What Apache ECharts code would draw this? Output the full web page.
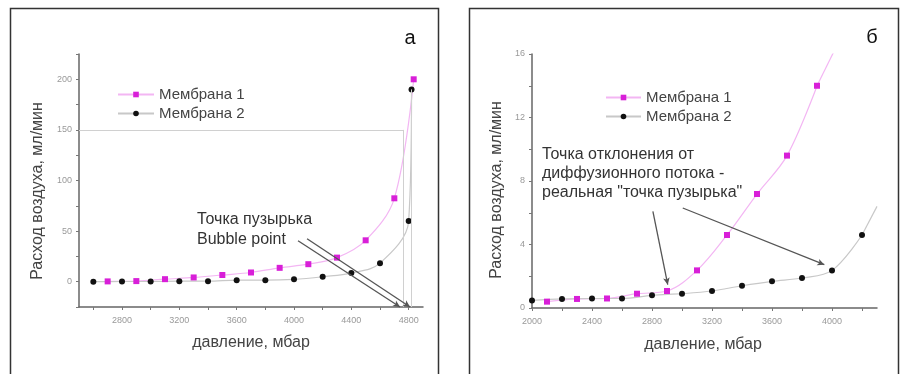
<!DOCTYPE html>
<html><head><meta charset="utf-8">
<script src="https://cdn.jsdelivr.net/npm/echarts@6/dist/echarts.min.js"></script>
<style>html,body{margin:0;padding:0;background:#fff}#c{width:903px;height:374px}</style>
</head><body><div id="c"></div>
<script>
// ---- Panel "а" data (pressure mbar, air flow ml/min)
const aM1 = [[2700,0.3],[2900,0.6],[3100,2.5],[3300,4.2],[3500,6.6],[3700,9.1],[3900,13.7],[4100,17.3],[4300,23.8],[4500,40.9],[4700,82.4],[4835,200]];
const aM2 = [[2600,0],[2800,0.2],[3000,0.2],[3200,0.5],[3400,0.5],[3600,1.5],[3800,1.5],[4000,2.3],[4200,4.9],[4400,8.5],[4600,18.3],[4800,60],[4820,190]];
const aXLabels = [2800,3200,3600,4000,4400,4800];
const aXTicks = [2600,2800,3000,3200,3400,3600,3800,4000,4200,4400,4600,4800];
const aYLabels = [0,50,100,150,200];
const aYTicks = [-25,0,25,50,75,100,125,150,175,200,225];
const aGuideH = [[2500,150],[4763,150]];
const aGuideV1 = [[4763,150],[4763,-25]];
const aGuideV2 = [[4820,190],[4820,-25]];
const aArrow1 = [[4028,40.5],[4740,-25]];
const aArrow2 = [[4091,42.5],[4810,-25]];

// ---- Panel "б" data
const bM1 = [[2100,0.4],[2300,0.57],[2500,0.6],[2700,0.9],[2900,1.07],[3100,2.37],[3300,4.6],[3500,7.18],[3700,9.6],[3900,14.0]];
const bM2 = [[2000,0.48],[2200,0.57],[2400,0.6],[2600,0.6],[2800,0.8],[3000,0.9],[3200,1.07],[3400,1.4],[3600,1.68],[3800,1.89],[4000,2.37],[4200,4.6]];
const bM1Tail = [[3900,14.0],[4015,16.2]];
const bM2Tail = [[4200,4.6],[4300,6.4]];
const bXLabels = [2000,2400,2800,3200,3600,4000];
const bXTicks = [2000,2200,2400,2600,2800,3000,3200,3400,3600,3800,4000,4200];
const bYLabels = [0,4,8,12,16];
const bYTicks = [0,2,4,6,8,10,12,14,16];
const bArrow1 = [[2806,6.08],[2905,1.47]];
const bArrow2 = [[3005,6.3],[3949,2.73]];

const NAME1 = 'Мембрана 1', NAME2 = 'Мембрана 2';
const MAG = '#d81fd8', PINK = '#f3b6f3', BLK = '#111', GRY = '#c8c8c8';
const FONT = '"Liberation Sans", Arial, sans-serif';
const plain = v => String(v);

function xAx(idx, min, max, labels, ticks) {
  return {type:'value', gridIndex:idx, min:min, max:max,
    axisLine:{show:true, onZero:false, lineStyle:{color:'#666', width:1.5}},
    axisTick:{show:true, length:3, customValues:ticks, lineStyle:{color:'#777'}},
    axisLabel:{show:true, customValues:labels, formatter:plain, color:'#999', fontSize:9, margin:9, fontFamily:FONT},
    splitLine:{show:false}};
}
function yAx(idx, min, max, labels, ticks) {
  return {type:'value', gridIndex:idx, min:min, max:max,
    axisLine:{show:true, onZero:false, lineStyle:{color:'#666', width:1.5}},
    axisTick:{show:true, length:3, customValues:ticks, lineStyle:{color:'#777'}},
    axisLabel:{show:true, customValues:labels, formatter:plain, color:'#999', fontSize:9, margin:7, fontFamily:FONT},
    splitLine:{show:false}};
}
function ml(pair, color, width, arrow) {
  return {silent:true, symbol: arrow ? ['none','arrow'] : ['none','none'], symbolSize: arrow ? [5,7] : 0,
    label:{show:false}, lineStyle:{color:color, width:width, type:'solid'},
    data:[[{coord:pair[0]},{coord:pair[1]}]]};
}
function lineS(name, xi, data, color, lineColor, symbol, size) {
  return {name:name, type:'line', xAxisIndex:xi, yAxisIndex:xi, data:data, smooth:0.35,
    symbol:symbol, symbolSize:size, itemStyle:{color:color},
    lineStyle:{color:lineColor, width:1.2}, z:3};
}

const chart = echarts.init(document.getElementById('c'), null, {renderer:'canvas'});
const legendText = {color:'#444', fontSize:15, fontFamily:FONT, lineHeight:15};
const T = (x, y, text, size, fill, align, rot) => ({type:'text', x:x, y:y, rotation:rot || 0,
  style:{text:text, font:size + 'px ' + FONT, fill:fill, textAlign:align, textVerticalAlign:'middle'}});
chart.setOption({
  animation:false,
  backgroundColor:'#fff',
  grid:[
    {left:79, top:54, width:344, height:253},
    {left:532, top:54, width:345, height:254}
  ],
  xAxis:[xAx(0,2500,4900,aXLabels,aXTicks), xAx(1,2000,4300,bXLabels,bXTicks)],
  yAxis:[yAx(0,-25,225,aYLabels,aYTicks), yAx(1,0,16,bYLabels,bYTicks)],
  legend:[
    {orient:'vertical', left:117, top:87, padding:0, itemWidth:36, itemHeight:7, itemGap:4, data:[NAME1,NAME2], textStyle:legendText, selectedMode:false},
    {orient:'vertical', left:605, top:90, padding:0, itemWidth:35, itemHeight:7, itemGap:4, data:[NAME1,NAME2], textStyle:legendText, selectedMode:false}
  ],
  series:[
    lineS(NAME1,0,aM1,MAG,PINK,'rect',6),
    Object.assign(lineS(NAME2,0,aM2,BLK,GRY,'circle',6), {
      markLine:{silent:true, symbol:['none','none'], label:{show:false}, lineStyle:{color:'#d0d0d0', width:1, type:'solid'},
        data:[[{coord:aGuideH[0]},{coord:aGuideH[1]}],[{coord:aGuideV1[0]},{coord:aGuideV1[1]}],[{coord:aGuideV2[0]},{coord:aGuideV2[1]}]]}
    }),
    {type:'line', xAxisIndex:0, yAxisIndex:0, data:[], markLine:ml(aArrow1,'#555',1.3,true), z:4},
    {type:'line', xAxisIndex:0, yAxisIndex:0, data:[], markLine:ml(aArrow2,'#555',1.3,true), z:4},
    lineS(NAME1,1,bM1,MAG,PINK,'rect',6),
    lineS(NAME2,1,bM2,BLK,GRY,'circle',6),
    {type:'line', xAxisIndex:1, yAxisIndex:1, data:bM1Tail, showSymbol:false, symbol:'none', smooth:true, lineStyle:{color:PINK, width:1.2}},
    {type:'line', xAxisIndex:1, yAxisIndex:1, data:bM2Tail, showSymbol:false, symbol:'none', smooth:true, lineStyle:{color:GRY, width:1.2}},
    {type:'line', xAxisIndex:1, yAxisIndex:1, data:[], markLine:ml(bArrow1,'#555',1.3,true), z:4},
    {type:'line', xAxisIndex:1, yAxisIndex:1, data:[], markLine:ml(bArrow2,'#555',1.3,true), z:4}
  ],
  graphic:[
    {type:'rect', shape:{x:10.5, y:8.5, width:428, height:400}, style:{fill:'none', stroke:'#333', lineWidth:1.5}, silent:true},
    {type:'rect', shape:{x:469.5, y:8.5, width:429, height:400}, style:{fill:'none', stroke:'#333', lineWidth:1.5}, silent:true},
    T(410, 38, 'а', 20, '#111', 'center'),
    T(872, 37, 'б', 20, '#111', 'center'),
    T(38, 191, 'Расход воздуха, мл/мин', 16, '#444', 'center', Math.PI/2),
    T(497, 190, 'Расход воздуха, мл/мин', 16, '#444', 'center', Math.PI/2),
    T(251, 343, 'давление, мбар', 16, '#444', 'center'),
    T(703, 345, 'давление, мбар', 16, '#444', 'center'),
    T(197, 220, 'Точка пузырька', 16, '#333', 'left'),
    T(197, 240, 'Bubble point', 16, '#333', 'left'),
    T(542, 155, 'Точка отклонения от', 16, '#333', 'left'),
    T(542, 174, 'диффузионного потока -', 16, '#333', 'left'),
    T(542, 193, 'реальная "точка пузырька"', 16, '#333', 'left')
  ]
});
</script></body></html>
